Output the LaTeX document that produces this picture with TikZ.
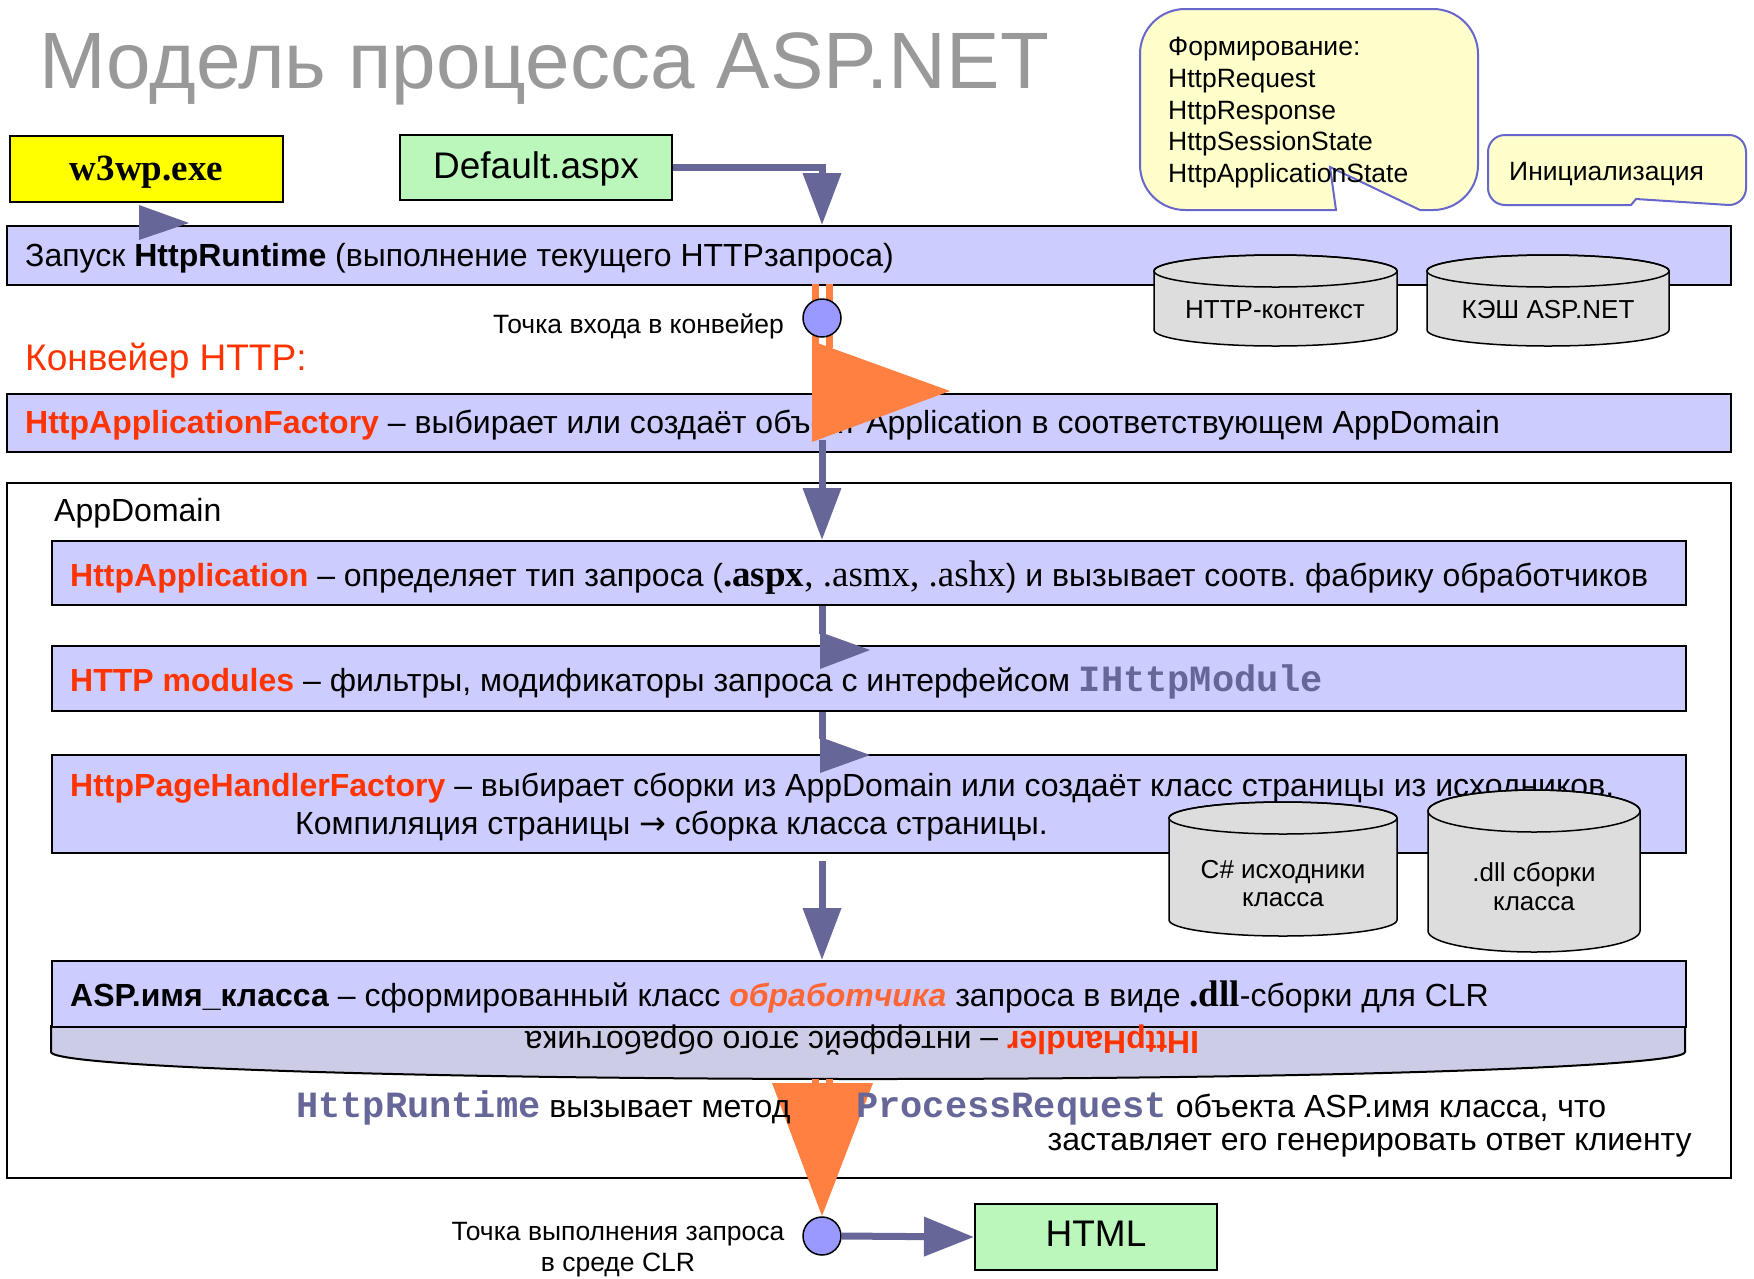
\documentclass[tikz,border=0pt]{standalone}
\usepackage{fontspec}
\setmainfont{Liberation Sans}
\newfontfamily\serifmy{Liberation Serif}
\newfontfamily\monomy{Liberation Mono}
\newfontfamily\djv{DejaVu Sans}
\frenchspacing
\usetikzlibrary{arrows.meta}
\definecolor{lav}{HTML}{CCCCFF}
\definecolor{band}{HTML}{CCCCE6}
\definecolor{arr}{HTML}{666699}
\definecolor{circ}{HTML}{9999FF}
\definecolor{orng}{HTML}{FF8040}
\definecolor{redt}{HTML}{FF3300}
\definecolor{orit}{HTML}{FF6633}
\definecolor{cbord}{HTML}{6666CC}
\definecolor{cfill}{HTML}{FFFFCC}
\definecolor{grn}{HTML}{BBF7BB}
\definecolor{ttl}{HTML}{999999}
\definecolor{ylw}{HTML}{FFFF00}
\definecolor{cylg}{HTML}{DDDDDD}
\newcommand\fsz[1]{\fontsize{#1}{#1}\selectfont}
\newcommand\redb[1]{\textcolor{redt}{\bfseries #1}}
\newcommand\codeb[1]{{\monomy\bfseries\fsz{37}\textcolor{arr}{#1}}}
\newcommand\cylshape[5]{%
  \pgfmathsetmacro\cxx{(#1+#2)/2}\pgfmathsetmacro\rxx{(#2-#1)/2}%
  \filldraw[fill=cylg, draw=black, line width=1.5pt] (#1,#3) -- (#1,#4)
    arc[start angle=180, end angle=360, x radius=\rxx pt, y radius=#5pt] -- (#2,#3)
    arc[start angle=0, end angle=180, x radius=\rxx pt, y radius=#5pt] -- cycle;
  \draw[line width=1.5pt] (\cxx,#3) ellipse[x radius=\rxx pt, y radius=#5pt];
}
\begin{document}
\begin{tikzpicture}[x=1pt,y=-1pt,
  box/.style={draw=black, line width=2pt, anchor=north west, inner sep=0pt},
  bar/.style={box, fill=lav},
  txt/.style={inner sep=0pt, anchor=base west, font=\fsz{32}},
  small/.style={inner sep=0pt, anchor=base, font=\fsz{26}},
  conn/.style={draw=arr, line width=7pt},
  tipd/.style={-{Triangle[length=52pt,width=37pt]}},
  orl/.style={draw=orng, line width=7pt},
  callout/.style={fill=cfill, draw=cbord, line width=2pt},
  pt/.style={circle, draw=black, line width=1.5pt, fill=circ, minimum size=38pt, inner sep=0pt}]
\path[fill=white] (0,0) rectangle (1754,1278);
\useasboundingbox (0,0) rectangle (1754,1278);

% title
\node[anchor=base west, inner sep=0pt, font=\fsz{80}, text=ttl] (title) at (39,88) {Модель процесса ASP.NET};

% top boxes
\node[box, fill=ylw, minimum width=273pt, minimum height=66pt] (w3) at (9,135) {};
\node[font=\serifmy\bfseries\fsz{37}, inner sep=0pt, anchor=base] (w3T) at (w3.center |- 0,180) {w3wp.exe};
\node[box, fill=grn, minimum width=272pt, minimum height=65pt] (dflt) at (399,134) {};
\node[font=\fsz{37}, inner sep=0pt, anchor=base] (dfltT) at (dflt.center |- 0,178) {Default.aspx};

% callouts
\filldraw[callout] (1185,9) -- (1433,9) arc[start angle=90, end angle=0, radius=45pt]
  -- (1478,165) arc[start angle=0, end angle=-90, radius=45pt]
  -- (1420,210) -- (1330,167) -- (1336,210) -- (1185,210)
  arc[start angle=270, end angle=180, radius=45pt] -- (1140,54)
  arc[start angle=180, end angle=90, radius=45pt] -- cycle;
\node[inner sep=0pt, anchor=base west, font=\fsz{26.5}] (c1) at (1168,55) {Формирование:};
\node[inner sep=0pt, anchor=base west, font=\fsz{26.5}] (c2) at (1168,87) {HttpRequest};
\node[inner sep=0pt, anchor=base west, font=\fsz{26.5}] (c3) at (1168,119) {HttpResponse};
\node[inner sep=0pt, anchor=base west, font=\fsz{26.5}] (c4) at (1168,150) {HttpSessionState};
\node[inner sep=0pt, anchor=base west, font=\fsz{26.5}] (c5) at (1168,182) {HttpApplicationState};
\filldraw[callout] (1505,135) -- (1729,135) arc[start angle=90, end angle=0, radius=17pt]
  -- (1746,188) arc[start angle=0, end angle=-90, radius=17pt]
  -- (1636,199) -- (1631,205) -- (1505,205)
  arc[start angle=270, end angle=180, radius=17pt] -- (1488,152)
  arc[start angle=180, end angle=90, radius=17pt] -- cycle;
\node[inner sep=0pt, anchor=base west, font=\fsz{26.5}] (init) at (1509,180) {Инициализация};

% HttpRuntime bar
\node[bar, minimum width=1724pt, minimum height=59pt] (rt) at (6,225) {};
\node[txt] (rtT) at (25,266) {Запуск \textbf{HttpRuntime} (выполнение текущего HTTPзапроса)};
\cylshape{1154}{1397}{271}{330}{16}
\node[small] (ctx) at (1275,318) {HTTP-контекст};
\cylshape{1427}{1669}{271}{330}{16}
\node[small] (cache) at (1548,318) {КЭШ ASP.NET};

% arrows into HttpRuntime
\coordinate (aTip) at (139,205);
\fill[arr] (aTip) -- ++(50,18) -- ++(-50,17) -- cycle;
\coordinate (bIn) at (822,225);
\draw[conn, tipd] (dflt.east) -| (bIn);

% entry point
\draw[orl] (815.5,284) -- (815.5,346);
\draw[orl] (829.5,284) -- (829.5,348);
\node[pt] (entry) at (822,318) {};
\node[inner sep=0pt, anchor=base east, font=\fsz{26.5}] (entryT) at (784,333) {Точка входа в конвейер};

\node[inner sep=0pt, anchor=base west, font=\fsz{37}, text=redt] (conv) at (25,370) {Конвейер HTTP:};

% HttpApplicationFactory
\node[bar, minimum width=1724pt, minimum height=58pt] (fac) at (6,393) {};
\node[txt] (facT) at (25,433) {\redb{HttpApplicationFactory} – выбирает или создаёт объект Application в соответствующем AppDomain};
\fill[orng] (812,341) -- (950,391) -- (812,442) -- cycle;

% AppDomain
\node[box, fill=white, line width=1.5pt, minimum width=1724pt, minimum height=695pt] (ad) at (6,482) {};
\node[txt] (adT) at (54,521) {AppDomain};
\coordinate (facOut) at (822,440);
\draw[conn, tipd] (facOut) -- (ad.north -| facOut) -- ++(0,58);

% HttpApplication
\node[bar, minimum width=1634pt, minimum height=64pt] (happ) at (51,540) {};
\node[txt] (happT) at (70,586) {\redb{HttpApplication} – определяет тип запроса ({\serifmy\fsz{37}\bfseries .aspx}{\serifmy\fsz{37}, .asmx, .ashx}) и вызывает соотв. фабрику обработчиков};

% HTTP modules
\node[bar, minimum width=1634pt, minimum height=65pt] (mod) at (51,645) {};
\node[txt] (modT) at (70,691) {\redb{HTTP modules} – фильтры, модификаторы запроса с интерфейсом \codeb{IHttpModule}};
\coordinate (dA) at (822,0);
\draw[conn] (happ.south -| dA) -- (822,634);
\fill[arr] (820,632) -- (870,650) -- (820,669) -- cycle;

% HttpPageHandlerFactory
\node[bar, minimum width=1634pt, minimum height=98pt] (phf) at (51,754) {};
\node[txt] (phfT) at (70,796) {\redb{HttpPageHandlerFactory} – выбирает сборки из AppDomain или создаёт класс страницы из исходников.};
\node[txt] (phfT2) at (295,834) {Компиляция страницы {\djv →} сборка класса страницы.};
\draw[conn] (mod.south -| dA) -- (822,739);
\fill[arr] (820,737) -- (870,755) -- (820,773) -- cycle;
\cylshape{1169}{1397}{818}{920}{16}
\node[small] (cs1) at (1283,878) {C\# исходники};
\node[small] (cs2) at (1283,906) {класса};
\cylshape{1428}{1640}{811}{931}{21}
\node[small] (dl1) at (1534,881) {.dll сборки};
\node[small] (dl2) at (1534,910) {класса};

% ASP.имя_класса
\draw[conn, tipd] ([yshift=-7pt]phf.south -| dA) -- (822,960);
\filldraw[fill=band, draw=black, line width=2pt] (51,1026) -- (51,1052)
  .. controls (51,1067) and (417,1079) .. (868,1079)
  .. controls (1319,1079) and (1685,1067) .. (1685,1052) -- (1685,1026) -- cycle;
\node[bar, minimum width=1634pt, minimum height=66pt] (asp) at (51,960) {};
\node[txt] (aspT) at (70,1006) {\textbf{ASP.имя\_класса} – сформированный класс \textcolor{orit}{\bfseries\itshape обработчика} запроса в виде {\serifmy\fsz{37}\bfseries .dll}-сборки для CLR};
\node[inner sep=0pt, anchor=base, rotate=180, font=\fsz{32}] (ih) at (862,1031) {\redb{IHttpHandler} – интерфейс этого обработчика};

% execution
\draw[orl] (815.5,1079) -- (815.5,1086);
\draw[orl] (829.5,1079) -- (829.5,1086);
\fill[orng] (772,1083) -- (873,1083) -- (822,1216) -- cycle;
\node[txt] (pr1) at (296,1117) {\codeb{HttpRuntime} вызывает метод};
\node[txt] (pr2) at (856,1117) {\codeb{ProcessRequest} объекта ASP.имя класса, что};
\node[inner sep=0pt, anchor=base east, font=\fsz{32}] (pr3) at (1692,1150) {заставляет его генерировать ответ клиенту};

\node[pt] (exec) at (822,1236) {};
\node[inner sep=0pt, anchor=base, font=\fsz{26.5}] (execT1) at (618,1240) {Точка выполнения запроса};
\node[inner sep=0pt, anchor=base, font=\fsz{26.5}] (execT2) at (618,1271) {в среде CLR};
\node[box, fill=grn, minimum width=242pt, minimum height=66pt] (html) at (974,1203) {};
\node[font=\fsz{37}, inner sep=0pt, anchor=base] (htmlT) at (html.center |- 0,1246) {HTML};
\draw[conn, -{Triangle[length=50pt,width=38pt]}] (exec.east) -- (html.west);
\end{tikzpicture}
\end{document}
